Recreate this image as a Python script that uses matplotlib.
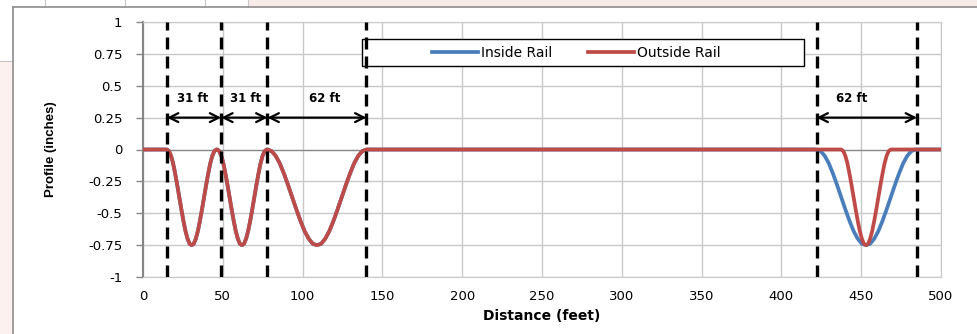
import matplotlib.pyplot as plt
from matplotlib.patches import Rectangle
from matplotlib.lines import Line2D
import numpy as np

# dip profile (inches), one point per 1/24 of the dip length
dip_shape = [0, -0.013, -0.05, -0.11, -0.19, -0.28, -0.375, -0.47, -0.56, -0.64, -0.70, -0.74, -0.75,
             -0.74, -0.70, -0.64, -0.56, -0.47, -0.375, -0.28, -0.19, -0.11, -0.05, -0.013, 0]

inside_starts = [15, 46.5, 78, 422]
inside_lengths = [31, 31, 62, 62]
outside_starts = [15, 46.5, 78, 437.5]
outside_lengths = [31, 31, 62, 31]

x_min, x_max = 0, 500

marker_x = [15, 49, 78, 140, 422, 485]
spans = [(15, 49), (49, 78), (78, 140), (422, 485)]
span_labels = ["31 ft", "31 ft", "62 ft", "62 ft"]
span_label_x = [31, 64, 114, 444]

y_ticks = [1, 0.75, 0.5, 0.25, 0, -0.25, -0.5, -0.75, -1]
y_ticklabels = ["1", "0.75", "0.5", "0.25", "0", "-0.25", "-0.5", "-0.75", "-1"]
x_ticks = [0, 50, 100, 150, 200, 250, 300, 350, 400, 450, 500]


def build_profile(starts, lengths):
    xs, ys = [x_min], [0]
    for s, L in zip(starts, lengths):
        xs.extend(np.linspace(s, s + L, len(dip_shape)))
        ys.extend(dip_shape)
    xs.append(x_max)
    ys.append(0)
    return xs, ys


inside_x, inside_y = build_profile(inside_starts, inside_lengths)
outside_x, outside_y = build_profile(outside_starts, outside_lengths)

W, H = 978, 334
fig = plt.figure(figsize=(W / 100, H / 100), dpi=100)
fig.patch.set_facecolor("white")

# surrounding spreadsheet bits
fig.add_artist(Rectangle((248 / W, 1 - 7 / H), 1, 7 / H, transform=fig.transFigure,
                         facecolor="#f9eaea", edgecolor="none"))
fig.add_artist(Rectangle((0, 0), 13 / W, 1 - 61 / H, transform=fig.transFigure,
                         facecolor="#fcf1ee", edgecolor="none"))
for cx in [45, 125, 205, 248]:
    fig.add_artist(Line2D([cx / W, cx / W], [1 - 7 / H, 1], transform=fig.transFigure,
                          color="#c8c8c8", lw=0.8))
fig.add_artist(Line2D([0, 13 / W], [1 - 61 / H, 1 - 61 / H], transform=fig.transFigure,
                      color="#c8c8c8", lw=0.8))
fig.add_artist(Line2D([13 / W, 13 / W], [0, 1 - 7 / H], transform=fig.transFigure,
                      color="#8c8c8c", lw=1.2))
fig.add_artist(Line2D([13 / W, 1], [1 - 7 / H, 1 - 7 / H], transform=fig.transFigure,
                      color="#8c8c8c", lw=1.2))

ax = fig.add_axes([143 / W, 1 - 277 / H, 798 / W, 255 / H])

ax.set_xlim(x_min, x_max)
ax.set_ylim(-1, 1)
ax.set_xticks(x_ticks)
ax.set_xticklabels([str(t) for t in x_ticks], fontsize=9.5)
ax.set_yticks(y_ticks)
ax.set_yticklabels(y_ticklabels, fontsize=9.5)
ax.tick_params(axis="x", length=0, pad=9)
ax.tick_params(axis="y", direction="out", length=5, width=1, color="#868686", pad=10)
ax.grid(True, color="#c8c8c8", lw=1)
ax.set_axisbelow(True)
for side in ["top", "right", "bottom"]:
    ax.spines[side].set_color("#c8c8c8")
ax.spines["left"].set_color("#868686")
ax.spines["left"].set_linewidth(1.5)
ax.axhline(0, color="#868686", lw=0.9, zorder=1.5)

ax.plot(inside_x, inside_y, color="#4a7ebb", lw=2.7, zorder=3, label="Inside Rail")
ax.plot(outside_x, outside_y, color="#be4b48", lw=2.7, zorder=3.5, label="Outside Rail")

for mx in marker_x:
    ax.axvline(mx, color="black", lw=2.4, linestyle=(0, (3.6, 2.1)), zorder=6)

for (a, b), lab, lx in zip(spans, span_labels, span_label_x):
    ax.annotate("", xy=(b, 0.25), xytext=(a, 0.25),
                arrowprops=dict(arrowstyle="<->", lw=1.6, color="black",
                                shrinkA=0, shrinkB=0, mutation_scale=16), zorder=6)
    ax.text(lx, 0.40, lab, ha="center", va="center", fontsize=8.5, fontweight="bold", zorder=6)

# legend box
ax.add_patch(Rectangle((0.275, 0.829), 0.553, 0.103, transform=ax.transAxes,
                       facecolor="white", edgecolor="black", lw=1.0, zorder=4))
ax.legend(loc="center", bbox_to_anchor=(0.543, 0.88), ncol=2, frameon=False,
          fontsize=10, handlelength=3.3, handletextpad=0.2, columnspacing=2.6)

ax.set_xlabel("Distance (feet)", fontsize=10, fontweight="bold", labelpad=5)
ax.set_ylabel("Profile (inches)", fontsize=9.5, fontweight="bold",
              family=["Liberation Sans", "DejaVu Sans"], labelpad=22)

fig.savefig("out.png", dpi=100)
